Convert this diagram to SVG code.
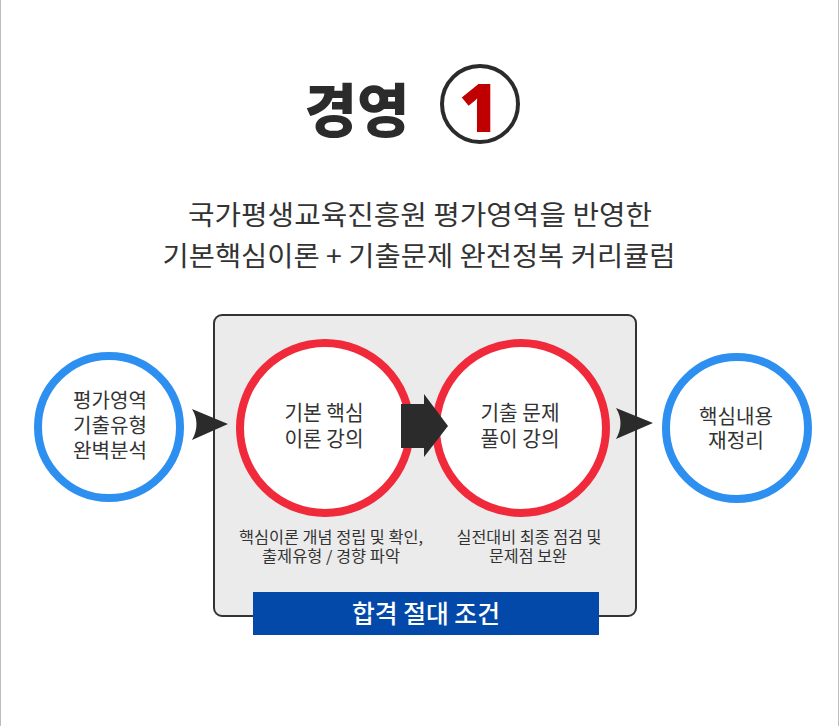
<svg xmlns="http://www.w3.org/2000/svg" width="840" height="726" viewBox="0 0 840 726">
<style>
text{font-family:"Noto Sans CJK KR","Noto Sans",sans-serif;fill:#333;text-anchor:middle}
.blue{fill:#fff;stroke:#2d8ff0;stroke-width:8}
.red{fill:#fff;stroke:#f02a3a;stroke-width:8}
.c20{font-size:20px;font-weight:400}
.c21{font-size:21px;font-weight:400}
.cap{font-size:15.5px;font-weight:400}
.sub{font-size:27px;font-weight:400}
.dark{fill:#2b2b2b}
</style>
<rect x="0" y="0" width="840" height="726" fill="#fff"/>
<line x1="0.5" y1="0" x2="0.5" y2="726" stroke="#bdbdbd"/>
<line x1="838.5" y1="0" x2="838.5" y2="726" stroke="#bdbdbd"/>
<g id="title">
<text x="357" y="132" style="font-size:58px;font-weight:900;fill:#2b2b2b" textLength="105" lengthAdjust="spacingAndGlyphs">경영</text>
<circle cx="480" cy="104" r="38" fill="none" stroke="#2b2b2b" stroke-width="4"/>
<text x="479" y="132" style="font-size:68px;font-weight:900;fill:#c00000;font-family:'Noto Sans',sans-serif">1</text>
</g>
<g id="subtitle">
<text class="sub" x="420" y="225" textLength="464" lengthAdjust="spacingAndGlyphs">국가평생교육진흥원 평가영역을 반영한</text>
<text class="sub" x="419" y="266" textLength="513" lengthAdjust="spacingAndGlyphs">기본핵심이론 + 기출문제 완전정복 커리큘럼</text>
</g>
<g id="box">
<rect x="214" y="315" width="422" height="301" rx="8" fill="#ebebeb" stroke="#333" stroke-width="2"/>
</g>
<g id="n1">
<circle class="blue" cx="109" cy="427" r="71"/>
<text class="c20" x="110" y="408" textLength="74" lengthAdjust="spacingAndGlyphs">평가영역</text>
<text class="c20" x="110" y="433" textLength="74" lengthAdjust="spacingAndGlyphs">기출유형</text>
<text class="c20" x="110" y="458" textLength="74" lengthAdjust="spacingAndGlyphs">완벽분석</text>
</g>
<g id="n2">
<circle class="red" cx="325" cy="428" r="85"/>
<text class="c21" x="324" y="420" textLength="79" lengthAdjust="spacingAndGlyphs">기본 핵심</text>
<text class="c21" x="324" y="446" textLength="79" lengthAdjust="spacingAndGlyphs">이론 강의</text>
<text class="cap" x="331" y="543" textLength="184" lengthAdjust="spacingAndGlyphs">핵심이론 개념 정립 및 확인,</text>
<text class="cap" x="331" y="562" textLength="138" lengthAdjust="spacingAndGlyphs">출제유형 / 경향 파악</text>
</g>
<g id="n3">
<circle class="red" cx="521" cy="428" r="85"/>
<text class="c21" x="520" y="420" textLength="79" lengthAdjust="spacingAndGlyphs">기출 문제</text>
<text class="c21" x="520" y="446" textLength="79" lengthAdjust="spacingAndGlyphs">풀이 강의</text>
<text class="cap" x="529" y="543" textLength="145" lengthAdjust="spacingAndGlyphs">실전대비 최종 점검 및</text>
<text class="cap" x="528" y="562" textLength="78" lengthAdjust="spacingAndGlyphs">문제점 보완</text>
</g>
<g id="n4">
<circle class="blue" cx="737" cy="428" r="71"/>
<text class="c20" x="736" y="424" textLength="74" lengthAdjust="spacingAndGlyphs">핵심내용</text>
<text class="c20" x="736" y="448" textLength="56" lengthAdjust="spacingAndGlyphs">재정리</text>
</g>
<g id="banner">
<rect x="253" y="592" width="346" height="43" fill="#0249aa"/>
<text x="426" y="623" style="font-size:25px;font-weight:500;fill:#fff" textLength="148" lengthAdjust="spacingAndGlyphs">합격 절대 조건</text>
</g>
<g id="connectors">
<path class="dark" d="M192,409 L228,424 L192,440 Q201,424 192,409 Z"/>
<path class="dark" d="M401,404 L424,404 L424,394 L448,426 L424,457 L424,448 L401,448 Z"/>
<path class="dark" d="M616,408 L653,423 L616,439 Q625,423 616,408 Z"/>
</g>
</svg>
